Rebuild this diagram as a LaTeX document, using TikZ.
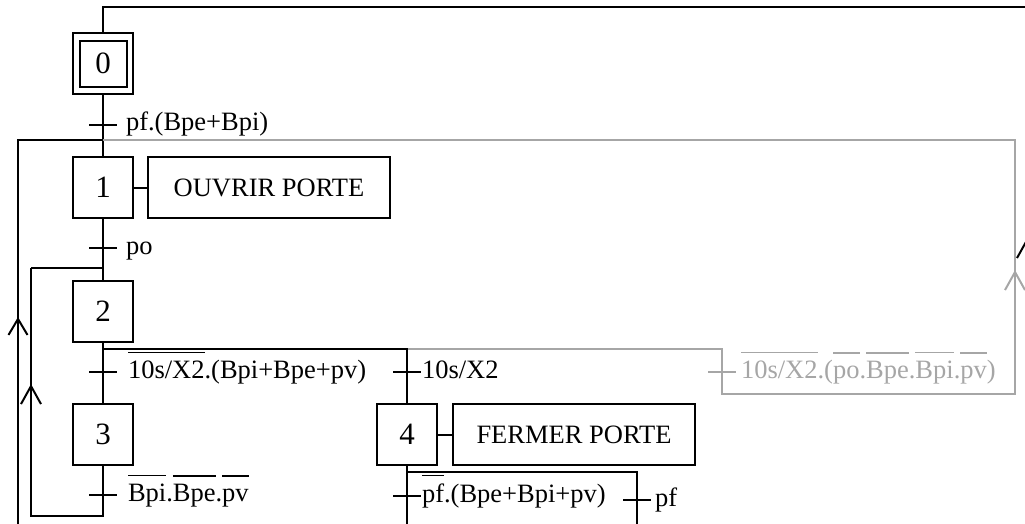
\documentclass[tikz,border=0pt]{standalone}
\usepackage{fontspec}
\setmainfont{Liberation Serif}
\usetikzlibrary{arrows.meta}
\definecolor{lgray}{HTML}{A6A6A6}
\newcommand{\ol}[1]{\vbox{\hrule height 1.6pt\kern 7pt\hbox{\vphantom{Bp}#1}}}
\begin{document}
\begin{tikzpicture}[x=1pt,y=-1pt,line width=2pt,
  stepbox/.style={draw, minimum width=60pt, minimum height=61pt, inner sep=0pt, font=\fontsize{31}{36}\selectfont},
  actbox/.style={draw, minimum width=242pt, minimum height=61pt, inner sep=0pt, font=\fontsize{26.5}{30}\selectfont},
  lbl/.style={anchor=base west, inner sep=0pt, font=\fontsize{26.5}{30}\selectfont},
  glbl/.style={lbl, text=lgray},
  gline/.style={draw=lgray},
  barb/.style={-{Straight Barb[length=18pt,width=20pt]}}
]
\clip (0,0) rectangle (1025,524);
% steps
\node[stepbox] (s0) at (103,63.5) {0};
\node[draw, minimum width=47pt, minimum height=46pt, inner sep=0pt] (s0i) at (103,64) {};
\node[stepbox] (s1) at (103,187.5) {1};
\node[actbox, anchor=west] (a1) at (147,187.5) {OUVRIR PORTE};
\node[stepbox] (s2) at (103,311) {2};
\node[stepbox] (s3) at (103,434) {3};
\node[stepbox] (s4) at (407,434.5) {4};
\node[actbox, anchor=west] (a4) at (452,434.5) {FERMER PORTE};
% coordinates
\coordinate (top) at (103,7);
\coordinate (topr) at (1027,7);
\coordinate (rbot) at (1027,600);
\coordinate (j0) at (103,140);
\coordinate (j1) at (103,268);
\coordinate (j2) at (103,349);
\coordinate (j2b) at (407,349);
\coordinate (j2c) at (722,349);
\coordinate (g1) at (1015,140);
\coordinate (g2) at (1015,394);
\coordinate (g3) at (722,394);
\coordinate (j4) at (407,472);
\coordinate (j4b) at (637,472);
\coordinate (b4) at (407,540);
\coordinate (b4b) at (637,540);
\coordinate (r3) at (103,516);
\coordinate (L1) at (18,140);
\coordinate (L1b) at (18,540);
\coordinate (L2) at (31,268);
\coordinate (L2b) at (31,516);
\coordinate (t0) at (103,125);
\coordinate (t1) at (103,248);
\coordinate (t2) at (103,372);
\coordinate (t2b) at (407,372);
\coordinate (t2c) at (722,372);
\coordinate (t3) at (103,495);
\coordinate (t4) at (407,496);
\coordinate (t4b) at (637,500);
% connectors
\draw (s0.north) -- (top) -- (topr) -- (rbot);
\draw (s0.south) -- (s1.north);
\draw (L1b) -- (L1) -- (j0);
\draw[gline] (j0) -- (g1) -- (g2) -- (g3) -- (j2c) -- (j2b);
\draw (s1.east) -- (a1.west);
\draw (s1.south) -- (s2.north);
\draw (L2) -- (j1);
\draw (s2.south) -- (s3.north);
\draw (j2) -- (j2b) -- (s4.north);
\draw (s3.south) -- (r3) -- (L2b) -- (L2);
\draw (s4.east) -- (a4.west);
\draw (s4.south) -- (b4);
\draw (j4) -- (j4b) -- (b4b);
% arrow heads
\draw[-{Straight Barb[length=16pt,width=19pt]}] (18,345) -- (18,317);
\draw[barb] (31,410) -- (31,384);
\draw[barb, draw=lgray] (1015,300) -- (1015,270);
\draw[-{Straight Barb[length=18pt,width=20pt]}] (1027,270) -- (1027,238);
% transition ticks
\foreach \t in {t0,t1,t2,t2b,t3,t4,t4b}
  \draw ([xshift=-14pt]\t) -- ([xshift=14pt]\t);
\draw[gline] ([xshift=-14pt]t2c) -- ([xshift=14pt]t2c);
% receptivities
\node[lbl] (l0) at (125,131) {pf.(Bpe+Bpi)};
\node[lbl] (l1) at (125,254) {po};
\node[lbl] (l2) at (127,378) {\ol{10s/X2}.(Bpi+Bpe+pv)};
\node[lbl] (l2b) at (421,378) {10s/X2};
\node[glbl] (l2c) at (740,378) {\ol{10s/X2}.(\ol{po}.\ol{Bpe}.\ol{Bpi}.\ol{pv})};
\node[lbl] (l3) at (127,501) {\ol{Bpi}.\ol{Bpe}.\ol{pv}};
\node[lbl] (l4) at (421,502) {\ol{pf}.(Bpe+Bpi+pv)};
\node[lbl] (l4b) at (654,506) {pf};
\end{tikzpicture}
\end{document}
